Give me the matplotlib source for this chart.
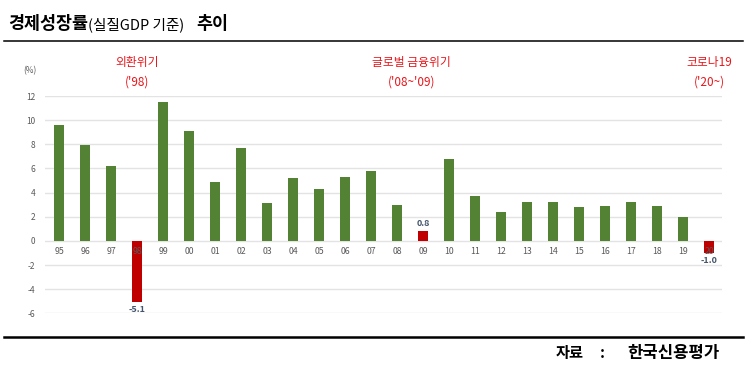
import matplotlib
matplotlib.use("Agg")
import matplotlib.pyplot as plt
import numpy as np

plt.rcParams['font.family'] = ['Noto Sans CJK KR', 'DejaVu Sans']

years = ['95', '96', '97', '98', '99', '00', '01', '02', '03', '04', '05', '06', '07',
         '08', '09', '10', '11', '12', '13', '14', '15', '16', '17', '18', '19', '20']
growth = [9.6, 7.9, 6.2, -5.1, 11.5, 9.1, 4.9, 7.7, 3.1, 5.2, 4.3, 5.3, 5.8,
          3.0, 0.8, 6.8, 3.7, 2.4, 3.2, 3.2, 2.8, 2.9, 3.2, 2.9, 2.0, -1.0]
crisis_years = ['98', '09', '20']
y_ticks = [-6, -4, -2, 0, 2, 4, 6, 8, 10, 12]

# crisis annotations: (bar position, label, period)
crises = [(3, '외환위기', "('98)"),
          (13.55, '글로벌 금융위기', "('08~'09)"),
          (25, '코로나19', "('20~)")]

GREEN = '#548235'
RED = '#c00000'
TXT = '#595959'

W, H = 755, 373
fig = plt.figure(figsize=(W / 100, H / 100), dpi=100)

def fx(px):
    return px / W

def fy(py):
    return 1 - py / H

ax = fig.add_axes([fx(45), fy(313.3), fx(722) - fx(45), fy(96) - fy(313.3)])

x = np.arange(len(years))
colors = [RED if y in crisis_years else GREEN for y in years]
ax.bar(x, growth, width=0.42, color=colors, zorder=2)

ax.set_xlim(-0.54, 25.5)
ax.set_ylim(-6, 12)
ax.set_yticks(y_ticks)
ax.set_yticklabels([str(t) for t in y_ticks], fontsize=6, color=TXT)
ax.tick_params(axis='y', length=0, pad=7)
ax.set_xticks([])
for s in ax.spines.values():
    s.set_visible(False)
ax.grid(axis='y', color='#e3e3e3', linewidth=1, zorder=0)

# year labels sit just under the zero line
for i, y in enumerate(years):
    ax.text(i, -0.85, y, ha='center', va='center', fontsize=6.3, color=TXT, zorder=3)

# value labels for crisis years
for i, y in enumerate(years):
    if y in crisis_years:
        v = growth[i]
        if v < 0:
            ax.text(i, v - 0.25, f'{v:.1f}', ha='center', va='top', fontsize=6.5,
                    color='#44546a', fontweight='bold', zorder=3)
        else:
            ax.text(i, v + 0.25, f'{v:.1f}', ha='center', va='bottom', fontsize=6.5,
                    color='#44546a', fontweight='bold', zorder=3)

fig.text(fx(37), fy(71), '(%)', ha='right', va='center', fontsize=6, color=TXT)

for xi, name, period in crises:
    ax.text(xi, 14.8, name, ha='center', va='center', fontsize=8.5, color='#e8161b',
            clip_on=False)
    ax.text(xi, 13.15, period, ha='center', va='center', fontsize=8.5, color='#e8161b',
            clip_on=False)

# title
fig.text(fx(8), fy(29), '경제성장률', fontsize=12.5, fontweight='bold', va='baseline')
fig.text(fx(88), fy(29), '(실질GDP 기준)', fontsize=10.5, va='baseline')
fig.text(fx(196), fy(29), '추이', fontsize=12.5, fontweight='bold', va='baseline')

# rules
fig.add_artist(plt.Line2D([fx(4), fx(743)], [fy(41), fy(41)], color='black', linewidth=1.1))
fig.add_artist(plt.Line2D([fx(4), fx(743)], [fy(337), fy(337)], color='black', linewidth=1.8))

# source
fig.text(fx(556), fy(358), '자료', fontsize=11, fontweight='bold', va='baseline')
fig.text(fx(600), fy(358), ':', fontsize=11, fontweight='bold', va='baseline')
fig.text(fx(627), fy(358), '한국신용평가', fontsize=12, fontweight='bold', va='baseline')

fig.savefig('out.png', dpi=100, facecolor='white')
